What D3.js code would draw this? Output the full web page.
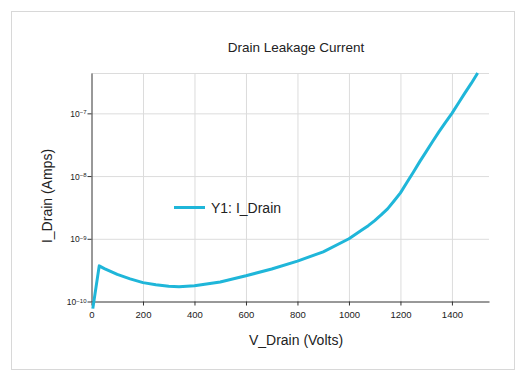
<!DOCTYPE html>
<html>
<head>
<meta charset="utf-8">
<script src="https://cdn.jsdelivr.net/npm/d3@7"></script>
<style>
  body { margin: 0; background: #fff; font-family: "Liberation Sans", Arial, sans-serif; }
  .grid line { stroke: #dcdcdc; stroke-width: 1; }
  .grid path { display: none; }
</style>
</head>
<body>
<script>
// data
var vDrain = [5, 30, 50, 100, 150, 200, 250, 300, 340, 400, 500, 600, 700, 800, 900, 1000, 1050, 1075, 1100, 1125, 1150, 1175, 1200, 1225, 1250, 1275, 1300, 1325, 1350, 1375, 1400, 1425, 1450, 1475, 1500];
var iDrain = [7.7e-11, 3.7e-10, 3.35e-10, 2.7e-10, 2.3e-10, 2.0e-10, 1.85e-10, 1.75e-10, 1.72e-10, 1.78e-10, 2.05e-10, 2.57e-10, 3.3e-10, 4.4e-10, 6.2e-10, 1.0e-9, 1.38e-9, 1.62e-9, 1.95e-9, 2.4e-9, 3.0e-9, 4.0e-9, 5.4e-9, 7.9e-9, 1.15e-8, 1.7e-8, 2.45e-8, 3.55e-8, 5.1e-8, 7.2e-8, 1.0e-7, 1.45e-7, 2.1e-7, 3.0e-7, 4.4e-7];
var xTicks = [0, 200, 400, 600, 800, 1000, 1200, 1400];
var yTicks = [1e-10, 1e-9, 1e-8, 1e-7];
var yExp = ["−10", "−9", "−8", "−7"];

var W = 523, H = 378;
var margin = {top: 73, right: 34, bottom: 76.5, left: 91.5},
    width = W - margin.left - margin.right,
    height = H - margin.top - margin.bottom;

var svg = d3.select("body").append("svg")
    .attr("width", W)
    .attr("height", H);

// outer frame
svg.append("rect")
    .attr("x", 11.5).attr("y", 11.5)
    .attr("width", 503).attr("height", 358)
    .attr("fill", "none")
    .attr("stroke", "#d8d8d8");

var g = svg.append("g")
    .attr("transform", "translate(" + margin.left + "," + margin.top + ")");

var x = d3.scaleLinear().domain([0, 1544]).range([0, width]);
var y = d3.scaleLog().domain([1e-10, 4.4e-7]).range([height, 0]);

// gridlines
g.append("g")
    .attr("class", "grid")
    .attr("transform", "translate(0," + height + ")")
    .call(d3.axisBottom(x).tickValues(xTicks.slice(1)).tickSize(-height).tickFormat(""));
g.append("g")
    .attr("class", "grid")
    .call(d3.axisLeft(y).tickValues(yTicks.slice(1)).tickSize(-width).tickFormat(""));
// top frame line
g.append("line")
    .attr("x1", 0).attr("x2", width)
    .attr("y1", 0.5).attr("y2", 0.5)
    .attr("stroke", "#dcdcdc");

// x-axis
var xAxis = g.append("g")
    .attr("transform", "translate(0," + height + ")")
    .call(d3.axisBottom(x).tickValues(xTicks).tickSize(4).tickSizeOuter(0).tickFormat(d3.format("d")));
xAxis.select(".domain").attr("stroke", "#333");
xAxis.selectAll(".tick line").attr("stroke", "#333");
xAxis.selectAll("text")
    .attr("fill", "#222")
    .style("font-size", "9.5px")
    .style("font-family", "Liberation Sans, Arial, sans-serif")
    .attr("dy", "1.05em");

// y-axis
var yAxis = g.append("g")
    .call(d3.axisLeft(y).tickValues(yTicks).tickSize(4).tickSizeOuter(0).tickFormat(""));
yAxis.select(".domain").attr("stroke", "#333");
yAxis.selectAll(".tick line").attr("stroke", "#333");
yAxis.selectAll(".tick").each(function (d, i) {
    var t = d3.select(this).append("text")
        .attr("x", -5)
        .attr("dy", "0.35em")
        .attr("text-anchor", "end")
        .attr("fill", "#222")
        .style("font-size", "8.5px")
        .style("font-family", "Liberation Sans, Arial, sans-serif");
    t.append("tspan").text("10");
    t.append("tspan").attr("dy", "-0.4em").style("font-size", "6px").text(yExp[i]);
});

// the curve
var line = d3.line()
    .x(function (d, i) { return x(vDrain[i]); })
    .y(function (d) { return y(d); });
g.append("path")
    .datum(iDrain)
    .attr("fill", "none")
    .attr("stroke", "#1fb6d9")
    .attr("stroke-width", 3)
    .attr("stroke-linejoin", "round")
    .attr("d", line);

// legend
svg.append("line")
    .attr("x1", 174).attr("x2", 205)
    .attr("y1", 207.5).attr("y2", 207.5)
    .attr("stroke", "#1fb6d9")
    .attr("stroke-width", 3);
svg.append("text")
    .attr("x", 211).attr("y", 212.5)
    .attr("fill", "#222")
    .style("font-size", "14px")
    .text("Y1: I_Drain");

// title
svg.append("text")
    .attr("x", 296).attr("y", 51.5)
    .attr("text-anchor", "middle")
    .attr("fill", "#222")
    .style("font-size", "13.5px")
    .text("Drain Leakage Current");

// axis labels
svg.append("text")
    .attr("x", 296).attr("y", 345)
    .attr("text-anchor", "middle")
    .attr("fill", "#222")
    .style("font-size", "14px")
    .text("V_Drain (Volts)");
svg.append("text")
    .attr("transform", "translate(52,196) rotate(-90)")
    .attr("text-anchor", "middle")
    .attr("fill", "#222")
    .style("font-size", "14px")
    .text("I_Drain (Amps)");
</script>
</body>
</html>
